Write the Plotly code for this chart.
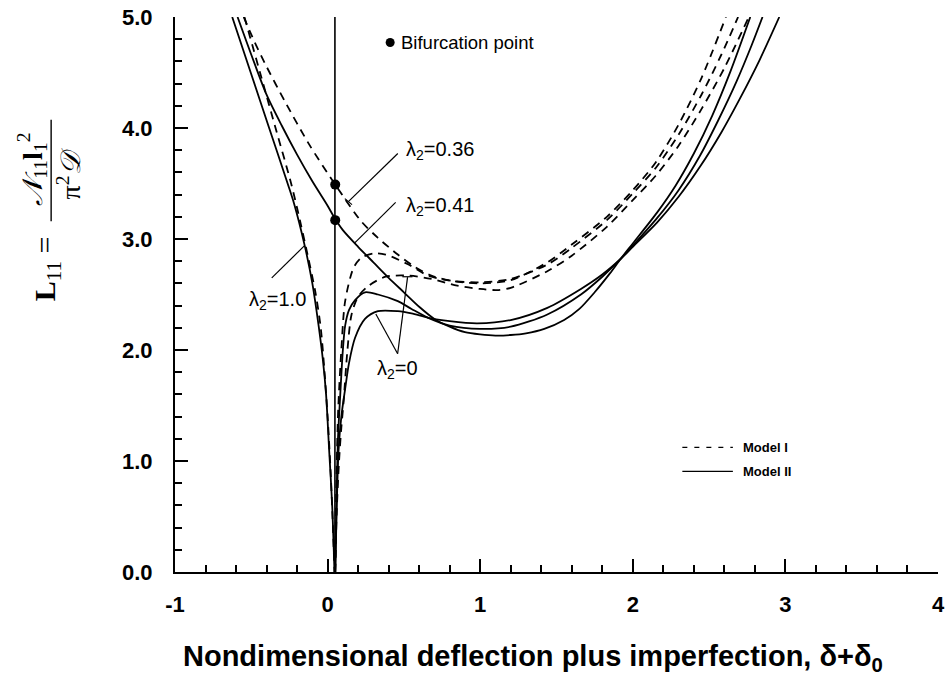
import plotly.graph_objects as go

# ---------------------------------------------------------------------------
# Load-deflection curves L11 vs (delta + delta0)
# Model I  -> dashed, Model II -> solid
# ---------------------------------------------------------------------------

# Model II, lambda2 = 1.0 (negative-deflection branch)
m2_lam10 = [(-0.625, 5.0), (-0.504, 4.5), (-0.383, 4.0), (-0.262, 3.5), (-0.22, 3.32),
            (-0.15, 2.94), (-0.10, 2.6), (-0.06, 2.23), (-0.03, 1.9), (-0.01, 1.6),
            (0.01, 1.1), (0.03, 0.6), (0.045, 0.0)]

# Model II, lambda2 = 0.41 (bifurcation path)
m2_lam041 = [(-0.59, 5.0), (-0.5, 4.66), (-0.4, 4.3), (-0.3, 4.02), (-0.2, 3.76),
             (-0.1, 3.52), (0.0, 3.3), (0.05, 3.18), (0.1, 3.08), (0.2, 2.93),
             (0.3, 2.79), (0.4, 2.65), (0.5, 2.52), (0.6, 2.39), (0.7, 2.28),
             (0.8, 2.21), (0.9, 2.16), (1.0, 2.14), (1.1, 2.13), (1.2, 2.135),
             (1.3, 2.15), (1.42, 2.19), (1.55, 2.27), (1.65, 2.37), (1.75, 2.52),
             (1.85, 2.69), (1.92, 2.82), (2.0, 2.96), (2.16, 3.24), (2.28, 3.48),
             (2.40, 3.77), (2.52, 4.11), (2.64, 4.51), (2.77, 5.0)]

# Model II, lambda2 = 0 (imperfect plate, two imperfection levels)
m2_lam0_a = [(0.05, 0.0), (0.058, 0.6), (0.068, 1.2), (0.083, 1.6), (0.1, 2.0),
             (0.115, 2.22), (0.14, 2.36), (0.18, 2.45), (0.245, 2.52), (0.33, 2.50),
             (0.46, 2.44), (0.55, 2.37), (0.66, 2.29), (0.8, 2.22), (1.0, 2.19),
             (1.2, 2.21), (1.44, 2.32), (1.66, 2.50), (1.8, 2.66), (1.92, 2.82),
             (2.0, 2.94), (2.16, 3.19), (2.30, 3.44), (2.44, 3.75), (2.56, 4.07),
             (2.68, 4.42), (2.78, 4.75), (2.85, 5.0)]
m2_lam0_b = [(0.05, 0.0), (0.06, 0.6), (0.072, 1.1), (0.09, 1.4), (0.115, 1.65),
             (0.14, 1.88), (0.18, 2.11), (0.245, 2.28), (0.33, 2.35), (0.46, 2.35),
             (0.55, 2.33), (0.66, 2.29), (0.8, 2.26), (0.98, 2.24), (1.2, 2.27),
             (1.44, 2.38), (1.66, 2.55), (1.8, 2.68), (1.92, 2.82), (2.0, 2.93),
             (2.16, 3.15), (2.30, 3.38), (2.44, 3.65), (2.58, 3.96), (2.70, 4.26),
             (2.83, 4.61), (2.96, 5.0)]

# Model I, lambda2 = 1.0
m1_lam10 = [(-0.545, 5.0), (-0.443, 4.5), (-0.341, 4.0), (-0.239, 3.5), (-0.18, 3.16),
            (-0.13, 2.85), (-0.08, 2.52), (-0.045, 2.2), (-0.02, 1.8), (0.0, 1.4),
            (0.02, 0.9), (0.035, 0.4), (0.045, 0.0)]

# Model I, lambda2 = 0.36 (bifurcation path)
m1_lam036 = [(-0.55, 5.0), (-0.48, 4.78), (-0.41, 4.58), (-0.28, 4.24), (-0.12, 3.85),
             (0.05, 3.49), (0.22, 3.16), (0.33, 3.01), (0.46, 2.86), (0.57, 2.75),
             (0.68, 2.67), (0.83, 2.62), (1.0, 2.60), (1.2, 2.63), (1.44, 2.79),
             (1.6, 2.95), (1.83, 3.2), (2.0, 3.44), (2.15, 3.69), (2.30, 4.03),
             (2.45, 4.45), (2.61, 5.0)]

# Model I, lambda2 = 0
m1_lam0_a = [(0.05, 0.0), (0.055, 0.6), (0.062, 1.1), (0.07, 1.48), (0.09, 2.0),
             (0.115, 2.44), (0.17, 2.74), (0.22, 2.83), (0.3, 2.87), (0.38, 2.86),
             (0.53, 2.77), (0.66, 2.67), (0.83, 2.62), (1.0, 2.61), (1.2, 2.64),
             (1.44, 2.77), (1.6, 2.92), (1.83, 3.17), (2.0, 3.41), (2.15, 3.64),
             (2.30, 3.94), (2.45, 4.30), (2.58, 4.66), (2.69, 5.0)]
m1_lam0_b = [(0.05, 0.0), (0.06, 0.55), (0.075, 1.0), (0.09, 1.3), (0.104, 1.52),
             (0.13, 2.0), (0.157, 2.32), (0.2, 2.48), (0.27, 2.58), (0.38, 2.66),
             (0.53, 2.67), (0.68, 2.64), (0.85, 2.58), (1.0, 2.55), (1.11, 2.54),
             (1.2, 2.56), (1.44, 2.71), (1.6, 2.85), (1.83, 3.11), (2.0, 3.35),
             (2.15, 3.57), (2.30, 3.84), (2.45, 4.17), (2.60, 4.54), (2.76, 5.0)]

# Perfect-plate (undeflected) path and bifurcation points
perfect_x = [0.048, 0.048]
perfect_y = [0.0, 5.0]
bif_x = [0.05, 0.05]
bif_y = [3.49, 3.17]
bif_key_x = [0.41]
bif_key_y = [4.77]

x_tick_vals = [-1, 0, 1, 2, 3, 4]
x_tick_text = ["-1", "0", "1", "2", "3", "4"]
y_tick_vals = [0, 1, 2, 3, 4, 5]
y_tick_text = ["0.0", "1.0", "2.0", "3.0", "4.0", "5.0"]

# ---------------------------------------------------------------------------
W, H = 950, 681
ML, MR, MT, MB = 175, 5, 15, 109
FONT = "Liberation Sans Narrow, Arial Narrow, Liberation Sans, Arial, sans-serif"
SERIF = "Liberation Serif, DejaVu Serif, serif"
SOLID = dict(color="black", width=1.8)
DASHED = dict(color="black", width=1.8, dash="8px,6px")


def px_x(px):
    return (px - ML) / (W - ML - MR)


def px_y(py):
    return (H - MB - py) / (H - MT - MB)


fig = go.Figure()


def add_curve(pts, style):
    xs, ys = zip(*pts)
    fig.add_trace(go.Scatter(x=list(xs), y=list(ys), mode="lines",
                             line=dict(**style, shape="spline", smoothing=0.8),
                             hoverinfo="skip", showlegend=False))


for pts in (m2_lam10, m2_lam041, m2_lam0_a, m2_lam0_b):
    add_curve(pts, SOLID)
for pts in (m1_lam10, m1_lam036, m1_lam0_a, m1_lam0_b):
    add_curve(pts, DASHED)

fig.add_trace(go.Scatter(x=perfect_x, y=perfect_y, mode="lines",
                         line=dict(color="black", width=1.6),
                         hoverinfo="skip", showlegend=False))
fig.add_trace(go.Scatter(x=bif_x, y=bif_y, mode="markers",
                         marker=dict(color="black", size=10),
                         hoverinfo="skip", showlegend=False))
fig.add_trace(go.Scatter(x=bif_key_x, y=bif_key_y, mode="markers",
                         marker=dict(color="black", size=9),
                         hoverinfo="skip", showlegend=False, cliponaxis=False))

# ---- leader lines for the curve labels (data coordinates) ----
leaders = [
    ((0.46, 3.77), (0.136, 3.337)),   # lambda2 = 0.36
    ((0.113, 3.364), (0.160, 3.31)),  # end tick
    ((0.446, 3.33), (0.178, 2.965)),  # lambda2 = 0.41
    ((-0.366, 2.65), (-0.151, 2.94)), # lambda2 = 1.0
    ((0.459, 1.966), (0.316, 2.325)), # lambda2 = 0, left arm
    ((0.459, 1.966), (0.524, 2.657)), # lambda2 = 0, right arm
    ((0.49, 2.66), (0.556, 2.66)),    # end tick
]
for (x0, y0), (x1, y1) in leaders:
    fig.add_shape(type="line", xref="x", yref="y", x0=x0, y0=y0, x1=x1, y1=y1,
                  line=dict(color="black", width=1.2))

lab_font = dict(family=FONT, size=20, color="black")
labels = [
    ("λ<sub>2</sub>=0.36", 0.50, 3.80),
    ("λ<sub>2</sub>=0.41", 0.50, 3.29),
    ("λ<sub>2</sub>=1.0", -0.53, 2.45),
    ("λ<sub>2</sub>=0", 0.31, 1.82),
]
for txt, x, y in labels:
    fig.add_annotation(text=txt, x=x, y=y, xref="x", yref="y", xanchor="left",
                       yanchor="middle", showarrow=False, font=lab_font)

fig.add_annotation(text="Bifurcation point", x=0.47, y=4.77, xref="x", yref="y",
                   xanchor="left", yanchor="middle", showarrow=False,
                   font=dict(family=FONT, size=18.5, color="black"))

# ---- model key ----
fig.add_shape(type="line", xref="paper", yref="paper",
              x0=px_x(687), x1=px_x(738), y0=px_y(447), y1=px_y(447),
              line=dict(color="black", width=1.2, dash="5px,7px"))
fig.add_shape(type="line", xref="paper", yref="paper",
              x0=px_x(687), x1=px_x(738), y0=px_y(471), y1=px_y(471),
              line=dict(color="black", width=1.2))
for txt, py in (("Model I", 447), ("Model II", 471)):
    fig.add_annotation(text=txt, x=px_x(746), y=px_y(py), xref="paper", yref="paper",
                       xanchor="left", yanchor="middle", showarrow=False,
                       font=dict(family=FONT, size=13, color="black", weight="bold"))

# ---- y-axis title: L11 = N11 l1^2 / (pi^2 D) ----
fig.add_annotation(text="<b>L</b><sub>11</sub> =", x=px_x(46), y=px_y(268),
                   xref="paper", yref="paper", xanchor="center", yanchor="middle",
                   textangle=-90, showarrow=False,
                   font=dict(family=SERIF, size=30, color="black"))
fig.add_annotation(text="<i>𝒩</i><sub>11</sub><b>l</b><sub>1</sub><sup>2</sup>",
                   x=px_x(31), y=px_y(168), xref="paper", yref="paper",
                   xanchor="center", yanchor="middle",
                   textangle=-90, showarrow=False,
                   font=dict(family=SERIF, size=28, color="black"))
fig.add_shape(type="line", xref="paper", yref="paper",
              x0=px_x(50), x1=px_x(50), y0=px_y(118), y1=px_y(220),
              line=dict(color="black", width=1.4))
fig.add_annotation(text="π<sup>2</sup><i>𝒟</i>", x=px_x(68), y=px_y(172),
                   xref="paper", yref="paper", xanchor="center", yanchor="middle",
                   textangle=-90, showarrow=False,
                   font=dict(family=SERIF, size=28, color="black"))

# ---- x-axis title ----
fig.add_annotation(text="<b>Nondimensional deflection plus imperfection, δ+δ<sub>0</sub></b>",
                   x=px_x(536), y=px_y(658), xref="paper", yref="paper",
                   xanchor="center", yanchor="middle",
                   showarrow=False, font=dict(family=FONT, size=29, color="black"))

axis_common = dict(
    showline=True, linecolor="black", linewidth=2,
    ticks="inside", ticklen=13, tickwidth=1.5, tickcolor="black",
    showgrid=False, zeroline=False,
    tickfont=dict(family=FONT, size=22, color="black", weight="bold"),
    minor=dict(ticks="inside", ticklen=7, tickwidth=1.5, tickcolor="black",
               dtick=0.2, tick0=0, showgrid=False),
)

fig.update_layout(
    width=W, height=H,
    margin=dict(l=ML, r=MR, t=MT, b=MB),
    paper_bgcolor="white", plot_bgcolor="white",
    showlegend=False,
    xaxis=dict(range=[-1, 4], tickvals=x_tick_vals, ticktext=x_tick_text,
               ticklabelstandoff=12, ticklabeloverflow="allow", **axis_common),
    yaxis=dict(range=[0, 5], tickvals=y_tick_vals, ticktext=y_tick_text,
               ticklabelstandoff=16, ticklabeloverflow="allow", **axis_common),
)

fig.write_html("out.html")
